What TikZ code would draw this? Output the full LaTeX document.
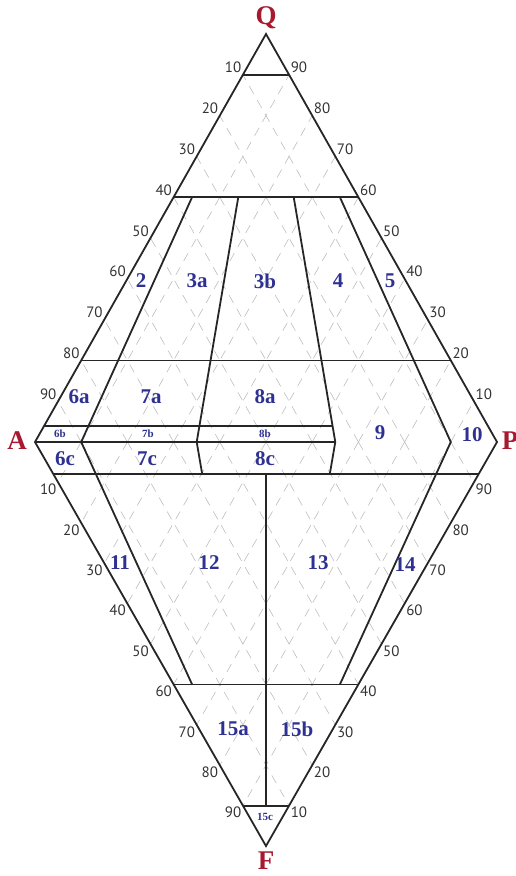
\documentclass[tikz,border=0pt]{standalone}
\usepackage{fontspec}
\setmainfont{Liberation Serif}
\newfontfamily\numfont{PT Sans}
\usetikzlibrary{calc}
\definecolor{fieldblue}{HTML}{2E3192}
\definecolor{apexred}{HTML}{A6192E}
\definecolor{numgray}{HTML}{333333}

\begin{document}
\begin{tikzpicture}[x=1pt,y=-1pt,
    bound/.style={line width=1.8pt, black!85},
    gridline/.style={gray!55, line width=0.55pt, dash pattern=on 9pt off 7pt},
    field/.style={text=fieldblue, font=\fontsize{21}{21}\selectfont\bfseries},
    smallfield/.style={text=fieldblue, font=\fontsize{11}{11}\selectfont\bfseries},
    apex/.style={text=apexred, font=\fontsize{27}{27}\selectfont\bfseries},
    tick/.style={text=numgray, font=\fontsize{15}{15}\numfont, inner sep=1.5pt}]
    \useasboundingbox (0,0) rectangle (516,876);

    % corners of the double triangle
    \coordinate (Q) at (266,34);
    \coordinate (A) at (35,442);
    \coordinate (P) at (497,442);
    \coordinate (F) at (266,846);

    % points on A--P
    \coordinate (b10) at ($(A)!0.1!(P)$);
    \coordinate (b35) at ($(A)!0.35!(P)$);
    \coordinate (b50) at ($(A)!0.5!(P)$);
    \coordinate (b65) at ($(A)!0.65!(P)$);
    \coordinate (b90) at ($(A)!0.9!(P)$);

    % grid
    \foreach \i in {1,...,9} {
        \draw[gridline] ($(A)!\i/10!(P)$) -- ($(Q)!\i/10!(P)$);
        \draw[gridline] ($(P)!\i/10!(A)$) -- ($(Q)!\i/10!(A)$);
        \draw[gridline] ($(A)!\i/10!(P)$) -- ($(F)!\i/10!(P)$);
        \draw[gridline] ($(P)!\i/10!(A)$) -- ($(F)!\i/10!(A)$);
    }

    % horizontal levels
    \coordinate (q90l) at ($(Q)!0.1!(A)$);
    \coordinate (q90r) at ($(Q)!0.1!(P)$);
    \coordinate (q60l) at ($(Q)!0.4!(A)$);
    \coordinate (q60r) at ($(Q)!0.4!(P)$);
    \coordinate (q20l) at ($(Q)!0.8!(A)$);
    \coordinate (q20r) at ($(Q)!0.8!(P)$);
    \coordinate (q5l) at ($(Q)!0.96!(A)$);
    \coordinate (f10l) at ($(F)!0.92!(A)$);
    \coordinate (f10r) at ($(F)!0.92!(P)$);
    \coordinate (f60l) at ($(F)!0.4!(A)$);
    \coordinate (f60r) at ($(F)!0.4!(P)$);
    \coordinate (f90l) at ($(F)!0.1!(A)$);
    \coordinate (f90r) at ($(F)!0.1!(P)$);

    % ends of the ratio lines
    \coordinate (r10t) at ($(Q)!0.4!(b10)$);
    \coordinate (r10b) at ($(F)!0.4!(b10)$);
    \coordinate (r35t) at ($(Q)!0.4!(b35)$);
    \coordinate (r35b) at ($(F)!0.92!(b35)$);
    \coordinate (r65t) at ($(Q)!0.4!(b65)$);
    \coordinate (r65m) at ($(Q)!0.96!(b65)$);
    \coordinate (r65b) at ($(F)!0.92!(b65)$);
    \coordinate (r90t) at ($(Q)!0.4!(b90)$);
    \coordinate (r90b) at ($(F)!0.4!(b90)$);
    \coordinate (v50t) at ($(F)!0.92!(b50)$);
    \coordinate (v50b) at ($(F)!0.1!(b50)$);

    \draw[bound] (Q) -- (A) -- (F) -- (P) -- cycle;
    \draw[bound] (q90l) -- (q90r);
    \draw[bound] (q60l) -- (q60r);
    \draw[bound] (q20l) -- (q20r);
    \draw[bound] (q5l) -- (r65m);
    \draw[bound] (A) -- (b65);
    \draw[bound] (f10l) -- (f10r);
    \draw[bound] (f60l) -- (f60r);
    \draw[bound] (f90l) -- (f90r);
    \draw[bound] (r10t) -- (b10) -- (r10b);
    \draw[bound] (r35t) -- (b35) -- (r35b);
    \draw[bound] (r65t) -- (b65) -- (r65b);
    \draw[bound] (r90t) -- (b90) -- (r90b);
    \draw[bound] (v50t) -- (v50b);

    % scale numbers
    \foreach \n in {10,20,...,90} {
        \pgfmathtruncatemacro\m{100-\n}
        \node[tick, anchor=south east] (ql\n) at ($(Q)!\n/100!(A)$) {\n};
        \node[tick, anchor=south west] (qr\n) at ($(Q)!\n/100!(P)$) {\m};
        \node[tick, anchor=north east] (fl\n) at ($(A)!\n/100!(F)$) {\n};
        \node[tick, anchor=north west] (fr\n) at ($(P)!\n/100!(F)$) {\m};
    }

    \node[apex] (lQ) at (266,18) {Q};
    \node[apex] (lA) at (17,441) {A};
    \node[apex] (lP) at (510,441) {P};
    \node[apex] (lF) at (266,861) {F};

    \node[field] (f2) at (141,281) {2};
    \node[field] (f3a) at (197,281) {3a};
    \node[field] (f3b) at (265,281) {3b};
    \node[field] (f4) at (338,281) {4};
    \node[field] (f5) at (390,281) {5};
    \node[field] (f6a) at (79,397) {6a};
    \node[field] (f7a) at (151,397) {7a};
    \node[field] (f8a) at (265,397) {8a};
    \node[smallfield] (f6b) at (60,434) {6b};
    \node[smallfield] (f7b) at (148,434) {7b};
    \node[smallfield] (f8b) at (265,434) {8b};
    \node[field] (f6c) at (65,459) {6c};
    \node[field] (f7c) at (147,459) {7c};
    \node[field] (f8c) at (265,459) {8c};
    \node[field] (f9) at (380,433) {9};
    \node[field] (f10) at (472,435) {10};
    \node[field] (f11) at (120,563) {11};
    \node[field] (f12) at (209,563) {12};
    \node[field] (f13) at (318,563) {13};
    \node[field] (f14) at (405,565) {14};
    \node[field] (f15a) at (233,729) {15a};
    \node[field] (f15b) at (297,729) {15b};
    \node[smallfield] (f15c) at (265,817) {15c};
\end{tikzpicture}
\end{document}
